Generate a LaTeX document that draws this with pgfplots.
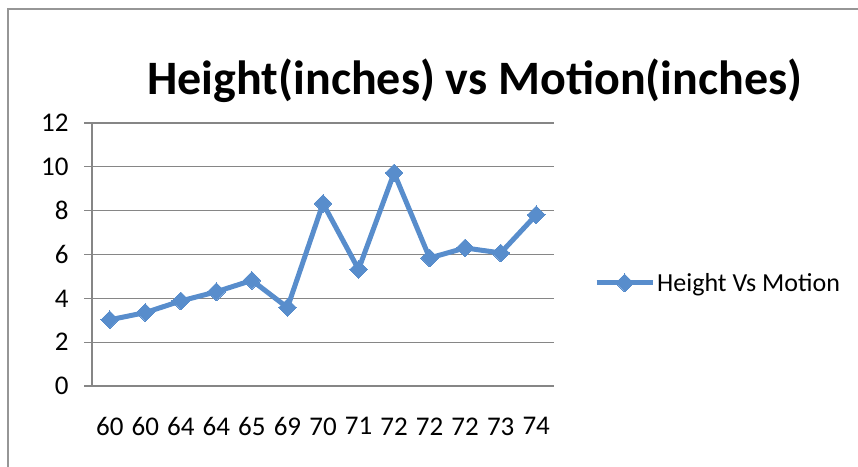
\documentclass[border=0pt]{standalone}
\usepackage{pgfplots}
\pgfplotsset{compat=1.18}
\usepackage{fontspec}
\setmainfont{Carlito}
\definecolor{serieblue}{RGB}{88,141,204}
\definecolor{gridgray}{RGB}{134,134,134}
\definecolor{framegray}{RGB}{150,150,150}
\begin{document}
\begin{tikzpicture}[x=1pt,y=1pt]
\path[use as bounding box] (0,0) rectangle (858,466);
\draw[framegray, line width=1.5pt] (8,-5) -- (8,457) -- (870,457);
\node[font=\fontsize{48}{52}\selectfont\bfseries, anchor=base] at (475,371) {Height(inches) vs Motion(inches)};
\begin{axis}[
  at={(92pt,80pt)}, anchor=south west,
  width=462pt, height=263pt, scale only axis,
  xmin=-0.5, xmax=12.5, ymin=0, ymax=12,
  axis lines*=left,
  axis line style={gridgray, line width=1.2pt},
  ytick={0,2,...,12},
  xtick={0,...,12},
  xticklabels={60,60,64,64,65,69,70,71,72,72,72,73,74},
  minor xtick={-0.5,0.5,...,12.5},
  ymajorgrids,
  grid style={gridgray, line width=1.2pt},
  tick align=outside,
  xtick style={draw=none},
  minor tick length=8pt,
  major tick length=8pt,
  minor x tick style={gridgray, line width=1.2pt},
  ytick style={gridgray, line width=1.2pt},
  /pgf/number format/assume math mode=true,
  tick label style={font=\fontsize{27}{30}\selectfont, text=black},
  xticklabel style={yshift=-20pt},
  yticklabel style={xshift=-12pt},
  legend style={draw=none, fill=none, at={(1.0866,0.392)}, anchor=west, inner sep=0pt,
    font=\fontsize{26}{30}\selectfont},
  legend image code/.code={\draw[mark repeat=2,mark phase=2,#1] plot coordinates {(0pt,0pt) (28pt,0pt) (56pt,0pt)};},
  legend cell align=left,
]
\addplot[serieblue, line width=5pt, mark=square*, mark size=6.3pt,
  mark options={rotate=45, solid, fill=serieblue, draw=serieblue, line width=0pt}]
  coordinates {(0,3.02) (1,3.35) (2,3.88) (3,4.30) (4,4.82) (5,3.58) (6,8.33)
               (7,5.32) (8,9.72) (9,5.84) (10,6.30) (11,6.07) (12,7.81)};
\addlegendentry{Height Vs Motion}
\end{axis}
\end{tikzpicture}
\end{document}
